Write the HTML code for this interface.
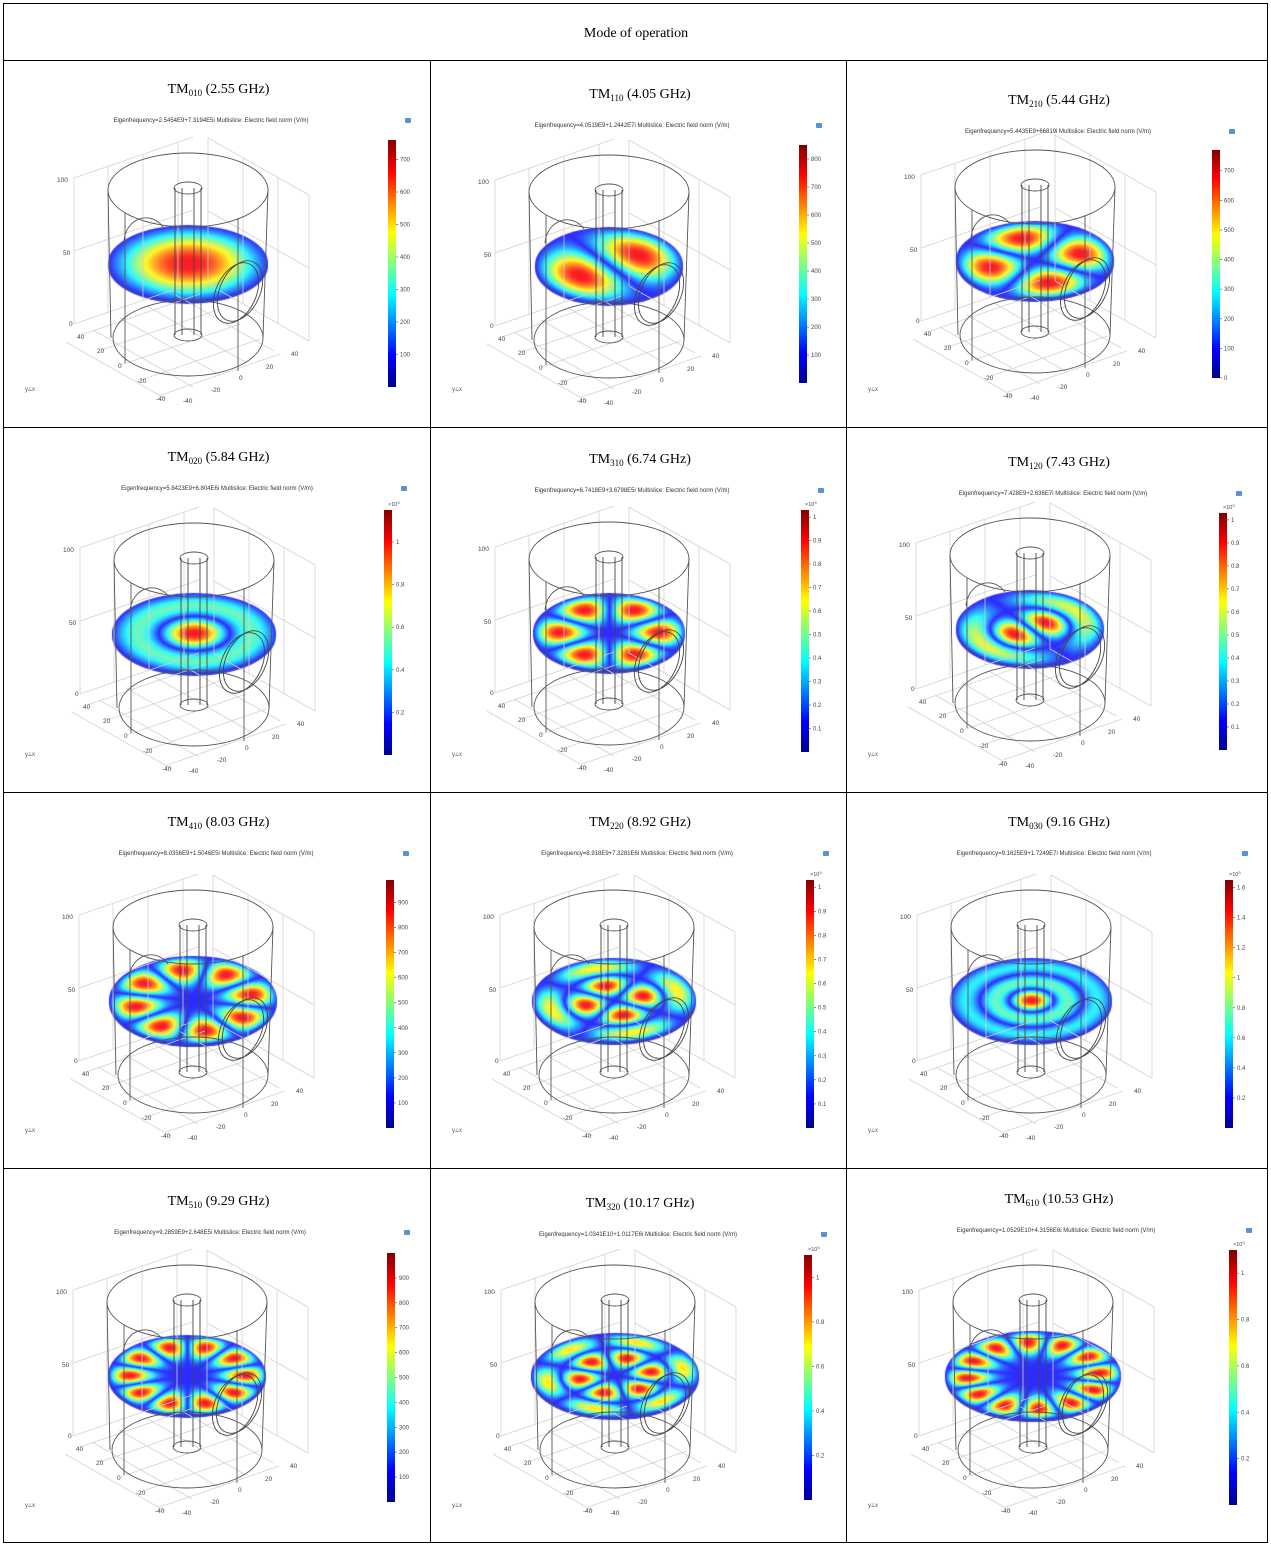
<!DOCTYPE html>
<html><head><meta charset="utf-8">
<style>
html,body{margin:0;padding:0;background:#fff;}
#wrap{position:relative;width:1271px;height:1546px;overflow:hidden;}
canvas,svg{position:absolute;left:0;top:0;}
text{font-family:"Liberation Sans",sans-serif;}
.ttl{font-family:"Liberation Serif",serif;font-size:14px;fill:#000;}
</style></head>
<body>
<div id="wrap">
<canvas id="cv" width="1271" height="1546"></canvas>
<svg id="sv" width="1271" height="1546" xmlns="http://www.w3.org/2000/svg">
<defs>
<linearGradient id="jet" x1="0" y1="1" x2="0" y2="0">
<stop offset="0" stop-color="#00008f"/><stop offset="0.125" stop-color="#0000ff"/><stop offset="0.375" stop-color="#00ffff"/><stop offset="0.625" stop-color="#ffff00"/><stop offset="0.875" stop-color="#ff0000"/><stop offset="1" stop-color="#800000"/>
</linearGradient>
</defs>
<text class="ttl" x="636" y="37" text-anchor="middle">Mode of operation</text>
</svg>
</div>
<script>
// ---- data ----
const modeSubs = ["010","110","210","020","310","120","410","220","030","510","320","610"];
const freqs = ["2.55","4.05","5.44","5.84","6.74","7.43","8.03","8.92","9.16","9.29","10.17","10.53"];
const eigen = ["2.5454E9+7.3194E5i","4.0519E9+1.2442E7i","5.4435E9+66819i","5.8423E9+6.804E6i","6.7418E9+3.6798E5i","7.428E9+2.636E7i","8.0356E9+1.5046E5i","8.918E9+7.3281E6i","9.1625E9+1.7249E7i","9.2859E9+2.648E5i","1.0341E10+1.0117E6i","1.0529E10+4.3156E6i"];
const tickSets = [
 [100,200,300,400,500,600,700],
 [100,200,300,400,500,600,700,800],
 [0,100,200,300,400,500,600,700],
 [0.2,0.4,0.6,0.8,1],
 [0.1,0.2,0.3,0.4,0.5,0.6,0.7,0.8,0.9,1],
 [0.1,0.2,0.3,0.4,0.5,0.6,0.7,0.8,0.9,1],
 [100,200,300,400,500,600,700,800,900],
 [0.1,0.2,0.3,0.4,0.5,0.6,0.7,0.8,0.9,1],
 [0.2,0.4,0.6,0.8,1,1.2,1.4,1.6],
 [100,200,300,400,500,600,700,800,900],
 [0.2,0.4,0.6,0.8,1],
 [0.2,0.4,0.6,0.8,1]];
const barMax = [760,850,770,1.15,1.03,1.03,990,1.03,1.65,1000,1.1,1.1];
const scaled = [0,0,0,1,1,1,0,1,1,0,1,1];
const azOrder = [0,1,2,0,3,1,4,2,0,5,3,6];
const radialZero = [2.405,3.832,5.136,5.520,6.380,7.016,7.588,8.417,8.654,8.771,9.761,9.936];
const lobeRot = [0,0.6,0.3,0,0,0.6,0.2,0.3,0,0,0.2,0.6];
// ---- layout ----
const colX=[3,430,846,1268], rowY=[60,427,792,1168,1543];
const titleY=[88,93,99,456,458,461,821,821,821,1200,1202,1198];
const discC=[[188,263],[609,265],[1035,260],[194,633],[609,632],[1030,628],[193,1000],[614,1000],[1031,1000],[187,1375],[615,1375],[1033,1375]];
const discR=[[80,38],[74,38],[79,39],[82,40],[76,39],[74,38],[84,44],[82,42],[81,42],[79,40],[84,42],[88,44]];
const barG=[[388,140,387],[799,145,383],[1212,150,378],[384,510,755],[801,510,752],[1219,513,750],[386,880,1128],[806,880,1128],[1225,880,1128],[387,1253,1502],[804,1255,1500],[1229,1250,1505]];

const NS="http://www.w3.org/2000/svg";
const sv=document.getElementById('sv');
function mk(tag,attrs,parent){const e=document.createElementNS(NS,tag);for(const k in attrs)e.setAttribute(k,attrs[k]);(parent||sv).appendChild(e);return e;}

const border=mk('rect',{x:3.5,y:3.5,width:1264,height:1539,fill:'none',stroke:'#000','stroke-width':1});


for(const y of [60,427,792,1168]){const l=mk('line',{x1:3,x2:1268,y1:y+0.5,y2:y+0.5,stroke:'#000'});}
for(const x of [430,846]){const l=mk('line',{x1:x+0.5,x2:x+0.5,y1:60,y2:1543,stroke:'#000'});}

function jet(t){t=Math.max(0,Math.min(1,t));const c=v=>Math.round(255*Math.max(0,Math.min(1,v)));return [c(1.5-Math.abs(4*t-3)),c(1.5-Math.abs(4*t-2)),c(1.5-Math.abs(4*t-1))];}
function besselJ(m,x){let s=0;const N=60;for(let i=0;i<N;i++){const t=(i+0.5)*Math.PI/N;s+=Math.cos(m*t-x*Math.sin(t));}return s/N;}

const ctx=document.getElementById('cv').getContext('2d');

for(let i=0;i<12;i++){
  const col=i%3,row=Math.floor(i/3);
  const cl=colX[col],cr=colX[col+1],ct=rowY[row],cb=rowY[row+1];
  const [cx,cy]=discC[i];
  const [RX,RY]=discR[i];
  const g=mk('g',{});
  
  
  const t=mk('text',{class:'ttl',x:(cl+cr)/2+2,y:titleY[i]+5,'text-anchor':'middle'},g);
  
  
  t.innerHTML='TM<tspan font-size="9" dy="3">'+modeSubs[i]+'</tspan><tspan dy="-3"> ('+freqs[i]+' GHz)</tspan>';
  const e=mk('text',{x:cx+23,y:titleY[i]+34,'font-size':'6','text-anchor':'middle',fill:'#333'},g);
  
  
  e.textContent='Eigenfrequency='+eigen[i]+'   Multislice: Electric field norm (V/m)';
  const gg=mk('g',{stroke:'#d2d2d2','stroke-width':0.8,fill:'none'},g);
  
  
  for(let k=0;k<3;k++){const d=k*73;
    mk('line',{x1:cx-114,y1:cy-85+d,x2:cx+5,y2:cy-126+d},gg);
    mk('line',{x1:cx+20,y1:cy-125+d,x2:cx+121,y2:cy-68+d},gg);}
  for(const dx of [-114,-80,-45,-10]){const yy=cy-85+(dx+114)*(-41/119);mk('line',{x1:cx+dx,y1:yy,x2:cx+dx,y2:yy+146},gg);}
  for(const dx of [20,55,90,121]){const yy=cy-125+(dx-20)*(57/101);mk('line',{x1:cx+dx,y1:yy,x2:cx+dx,y2:yy+146},gg);}
  for(let k=0;k<5;k++){mk('line',{x1:cx-107+k*20,y1:cy+72+k*15,x2:cx+12+k*20,y2:cy+31+k*15},gg);
    mk('line',{x1:cx-22+k*27,y1:cy+136-k*12,x2:cx-122+k*27,y2:cy+79-k*12},gg);}
  const al=mk('g',{'font-size':'6.5',fill:'#444'},g);
  
  
  const labs=[["100",-131,-81],["50",-125,-8],["0",-119,63],["40",-111,76],["20",-91,90],["0",-70,105],["-20",-51,120],["-40",-32,138],["40",103,93],["20",78,106],["0",51,117],["-20",23,129],["-40",-5,140]];
  for(const [s,dx,dy] of labs){const tt=mk('text',{x:cx+dx,y:cy+dy},al);tt.textContent=s;}
  const ax=mk('text',{x:cl+22,y:cb-36,'font-size':'6',fill:'#555'},g);
  
  
  ax.textContent='y⟂x';
  const wf=mk('g',{stroke:'#555','stroke-width':0.9,fill:'none'},g);
  
  
  mk('ellipse',{cx:cx,cy:cy-73,rx:80,ry:37},wf);
  mk('ellipse',{cx:cx,cy:cy+75,rx:75,ry:38},wf);
  mk('line',{x1:cx-80,y1:cy-73,x2:cx-77,y2:cy+75},wf);
  mk('line',{x1:cx+80,y1:cy-73,x2:cx+75,y2:cy+75},wf);
  mk('line',{x1:cx-63,y1:cy-50,x2:cx-63,y2:cy+100},wf);
  mk('line',{x1:cx+50,y1:cy-45,x2:cx+50,y2:cy+108},wf);
  mk('ellipse',{cx:cx,cy:cy-75,rx:14,ry:6},wf);
  mk('ellipse',{cx:cx,cy:cy+72,rx:14,ry:6},wf);
  mk('path',{d:`M${cx-64} ${cy-22} A22 25 0 0 1 ${cx-25} ${cy-36}`},wf);
  const [bx,bt,bb]=barG[i];
  const cb1=mk('rect',{x:bx,y:bt,width:8,height:bb-bt,fill:'url(#jet)'},g);
  
  
  const tg=mk('g',{'font-size':'6',fill:'#444'},g);
  
  
  for(const v of tickSets[i]){const y=bb-(v/barMax[i])*(bb-bt);
    mk('line',{x1:bx+8,x2:bx+10,y1:y,y2:y,stroke:'#444','stroke-width':0.6},tg);
    const tx=mk('text',{x:bx+12,y:y+2},tg);tx.textContent=String(v);}
  if(scaled[i]){const sc=mk('text',{x:bx+4,y:bt-4,'font-size':'5.5',fill:'#444'},g);sc.innerHTML='×10<tspan dy="-2" font-size="4">3</tspan>';}
  const ic=mk('rect',{x:bx+17,y:titleY[i]+30,width:6,height:5,fill:'#5b8fd6',rx:1},g);
  
  

  // disc rim (thickness)
  ctx.fillStyle='#3a3ec8';
  ctx.beginPath();ctx.ellipse(cx,cy+3,RX,RY,0,0,Math.PI*2);ctx.fill();
  const m=azOrder[i],xz=radialZero[i];
  const L=[];let mx=0;for(let k=0;k<=200;k++){const v=Math.abs(besselJ(m,xz*k/200));L.push(v);if(v>mx)mx=v;}
  const W=2*RX+2,H=2*RY+2;
  const off=document.createElement('canvas');off.width=W;off.height=H;
  const octx=off.getContext('2d');
  const img=octx.createImageData(W,H);
  for(let py=0;py<H;py++)for(let px=0;px<W;px++){
    const u=(px-RX)/RX,v=(py-RY)/RY;const r=Math.min(1,Math.sqrt(u*u+v*v));
    const phi=Math.atan2(v,u)+lobeRot[i];
    let f=L[Math.round(r*200)]/mx*(m?Math.abs(Math.cos(m*phi)):1);
    const [R,G,B]=jet(0.14+0.76*f);const o=(py*W+px)*4;
    img.data[o]=Math.round(R*0.85+45);img.data[o+1]=Math.round(G*0.85+30);img.data[o+2]=Math.round(B*0.85+38);img.data[o+3]=255;}
  octx.putImageData(img,0,0);
  ctx.save();ctx.beginPath();ctx.ellipse(cx,cy,RX,RY,0,0,Math.PI*2);ctx.clip();
  ctx.drawImage(off,cx-RX,cy-RY);ctx.restore();

  const ff=mk('g',{stroke:'#444','stroke-width':0.9,fill:'none'},g);
  
  
  for(const dx of [-13,-6,6,13]) mk('line',{x1:cx+dx,y1:cy-75,x2:cx+dx,y2:cy+72},ff);
  mk('ellipse',{cx:cx+48,cy:cy+30,rx:20,ry:32,transform:`rotate(25 ${cx+48} ${cy+30})`},ff);
  mk('ellipse',{cx:cx+52,cy:cy+28,rx:20,ry:32,transform:`rotate(25 ${cx+52} ${cy+28})`},ff);
}
</script>
</body></html>
